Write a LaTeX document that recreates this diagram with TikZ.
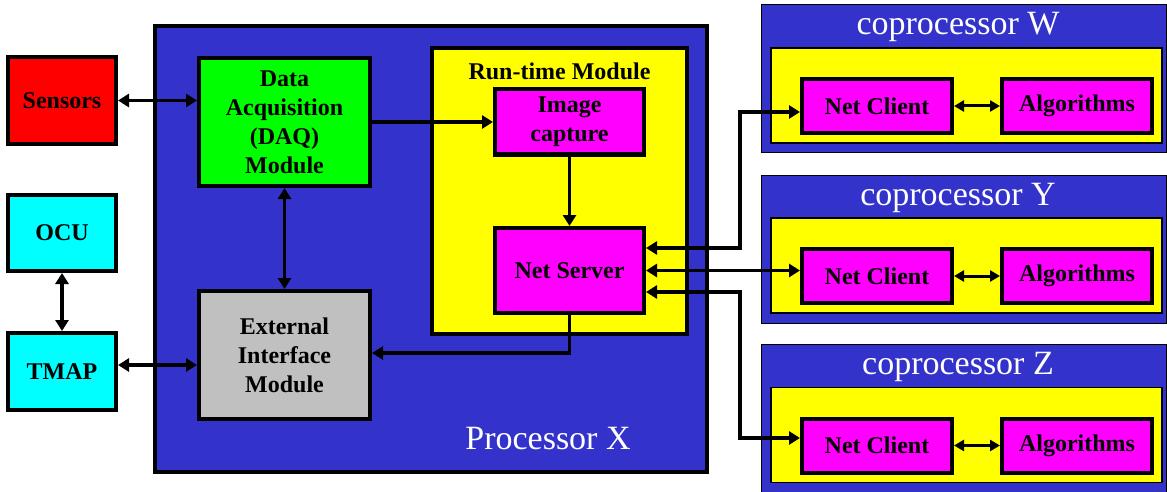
\documentclass[tikz,border=0pt]{standalone}
\usepackage{fontspec}
\setmainfont{Liberation Serif}[BoldFont={Liberation Serif Bold}]
\usetikzlibrary{arrows.meta}
\definecolor{procblue}{RGB}{51,51,204}
\definecolor{sensred}{RGB}{255,0,0}
\definecolor{daqgreen}{RGB}{0,255,0}
\definecolor{opcyan}{RGB}{0,255,255}
\definecolor{modyellow}{RGB}{255,255,0}
\definecolor{netmagenta}{RGB}{255,0,255}
\definecolor{extgray}{RGB}{192,192,192}
\begin{document}
\begin{tikzpicture}[x=1pt,y=-1pt,
  unit/.style={draw=black, line width=4pt, inner sep=2pt, align=center,
    font=\bfseries\fontsize{24}{29}\selectfont, text=black},
  host/.style={draw=black, line width=4pt, fill=procblue},
  cohost/.style={draw=black, line width=1pt, fill=procblue},
  coinner/.style={draw=black, line width=1.2pt, fill=modyellow},
  hosttitle/.style={text=white, font=\fontsize{34}{36}\selectfont, inner sep=0pt},
  link/.style={line width=3.8pt, -{Triangle[length=11pt,width=13pt]}},
  dlink/.style={line width=3.8pt, {Triangle[length=11pt,width=13pt]}-{Triangle[length=11pt,width=13pt]}},
  slink/.style={line width=3pt, {Triangle[length=10pt,width=11pt]}-{Triangle[length=10pt,width=11pt]}}]
\useasboundingbox (0,0) rectangle (1167,492);
\fill[white] (0,0) rectangle (1167,492);

% Processor X
\node[host, minimum width=552pt, minimum height=446pt] (proc) at (431,249) {};
\node[hosttitle] (proclabel) at (548,439) {Processor X};

% run-time module
\node[unit, fill=modyellow, minimum width=255pt, minimum height=286pt] (rtm) at (559.5,191) {};
\node[font=\bfseries\fontsize{24}{29}\selectfont, inner sep=0pt] (rtmlabel) at (559.5,71) {Run-time Module};
\node[unit, fill=netmagenta, minimum width=149pt, minimum height=65pt] (img) at (569.5,122) {Image\\capture};
\node[unit, fill=netmagenta, minimum width=149pt, minimum height=85pt] (ns) at (569.5,270.5) {Net Server};

% processor modules
\node[unit, fill=daqgreen, minimum width=171pt, minimum height=128pt] (daq) at (284.5,122) {Data\\Acquisition\\(DAQ)\\Module};
\node[unit, fill=extgray, minimum width=171pt, minimum height=128pt] (ext) at (284.5,355) {External\\Interface\\Module};

% external units
\node[unit, fill=sensred, minimum width=108pt, minimum height=87pt] (sens) at (62,100.5) {Sensors};
\node[unit, fill=opcyan, minimum width=108pt, minimum height=76pt] (ocu) at (62,233) {OCU};
\node[unit, fill=opcyan, minimum width=108pt, minimum height=77pt] (tmap) at (62,371.5) {TMAP};

% coprocessors
\foreach \n/\dy/\ty in {W/0/27,Y/170/198,Z/339.5/367}{
  \node[cohost, minimum width=405pt, minimum height=148pt] (cop\n) at (963.5,79+\dy) {};
  \node[hosttitle] (coptitle\n) at (958,\ty) {coprocessor \n};
  \node[coinner, minimum width=391pt, minimum height=95pt] (copin\n) at (966.5,95.5+\dy) {};
  \node[unit, fill=netmagenta, minimum width=150pt, minimum height=54pt] (nc\n) at (877,106+\dy) {Net Client};
  \node[unit, fill=netmagenta, minimum width=150pt, minimum height=54pt] (alg\n) at (1077,106+\dy) {Algorithms};
  \draw[slink] (nc\n) -- (alg\n);
}

% connectors
\draw[dlink] (sens.east) -- (daq.west |- sens.east);
\draw[dlink] (daq.south) -- (ext.north);
\draw[dlink] (ocu.south) -- (tmap.north);
\coordinate (tmapport) at ([yshift=6.5pt]tmap.east);
\draw[dlink] (tmapport) -- (ext.west |- tmapport);
\draw[link] (daq.east) -- (img.west |- daq.east);
\draw[link] (img.south) -- (ns.north);
\coordinate (nsdown) at (569.5,353);
\draw[link] (ns.south) -- (nsdown) -- (ext.east |- nsdown);

\coordinate (bendW) at (740,112);
\coordinate (bendZ) at (740,438);
\draw[dlink] ([yshift=22.5pt]ns.east) -| (bendW) -- (ncW.west |- bendW);
\draw[dlink] (ns.east) -- (ncY.west |- ns.east);
\draw[dlink] ([yshift=-21.5pt]ns.east) -| (bendZ) -- (ncZ.west |- bendZ);
\end{tikzpicture}
\end{document}
